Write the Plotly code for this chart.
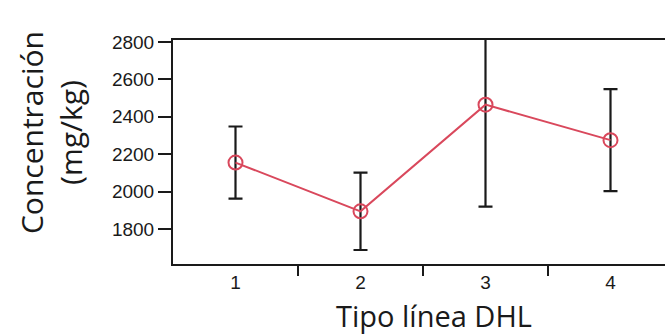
import plotly.graph_objects as go

categories = [1, 2, 3, 4]
means = [2155, 1894, 2465, 2275]
errors = [193, 207, 546, 273]
tick_labels = ["1", "2", "3", "4"]
y_ticks = [1800, 2000, 2200, 2400, 2600, 2800]

red = "#d9485c"

fig = go.Figure()
fig.add_trace(go.Scatter(
    x=categories, y=means, mode="lines+markers",
    line=dict(color=red, width=2),
    marker=dict(symbol="circle-open", size=14, color=red, line=dict(width=2)),
    error_y=dict(type="data", array=errors, visible=True, color="#1a1a1a",
                 thickness=2.2, width=7),
    showlegend=False,
))

fig.update_layout(
    width=665, height=334,
    margin=dict(l=173, r=0, t=40, b=70),
    plot_bgcolor="white", paper_bgcolor="white",
    font=dict(family="Liberation Sans, Arial", size=19, color="#1a1a1a"),
    xaxis=dict(
        range=[0.5, 4.436], tickvals=categories, ticktext=tick_labels,
        ticks="", showgrid=False, zeroline=False,
        showline=True, linecolor="#1a1a1a", linewidth=2, mirror=True,
        minor=dict(tickvals=[1.5, 2.5, 3.5], ticks="outside", ticklen=10,
                   tickwidth=1.5, tickcolor="#1a1a1a", showgrid=False),
        tickfont=dict(size=19),
    ),
    yaxis=dict(
        range=[1612, 2811], tickvals=y_ticks, ticks="outside", ticklen=13,
        tickwidth=1.5, tickcolor="#1a1a1a", showgrid=False, zeroline=False,
        showline=True, linecolor="#1a1a1a", linewidth=2,
        tickfont=dict(size=19),
    ),
    annotations=[
        dict(text="Concentración<br>(mg/kg)", textangle=-90, xref="paper",
             yref="paper", x=-0.248, y=0.589, xanchor="center", yanchor="middle",
             showarrow=False, font=dict(family="Open Sans", size=30, color="#1a1a1a")),
        dict(text="Tipo línea DHL", xref="paper", yref="paper", x=0.53,
             y=-0.228, xanchor="center", yanchor="middle", showarrow=False,
             font=dict(family="Open Sans", size=29, color="#1a1a1a")),
    ],
)

fig.write_html("out.html")
